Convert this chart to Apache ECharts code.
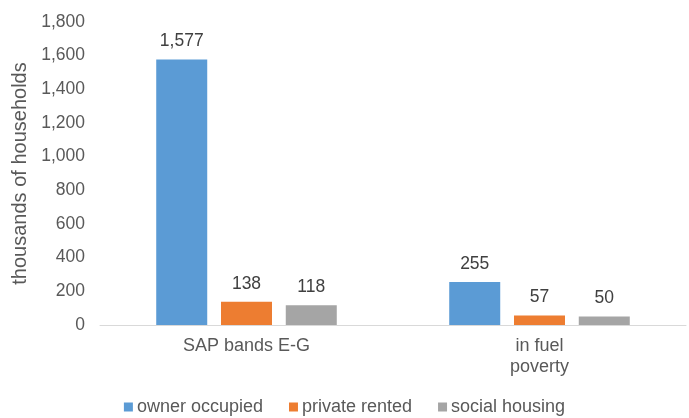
<!DOCTYPE html>
<html>
<head>
<meta charset="utf-8">
<script src="https://cdn.jsdelivr.net/npm/echarts@6/dist/echarts.min.js"></script>
<style>
  html, body { margin: 0; padding: 0; background: #fff; }
  #chart { width: 689px; height: 418px; }
</style>
</head>
<body>
<div id="chart"></div>
<script>
// categories and values (thousands of households)
const categories = ['SAP bands E-G', 'in fuel\npoverty']
const ownerOccupied = [1577, 255]
const privateRented = [138, 57]
const socialHousing = [118, 50]
const seriesNames = ['owner occupied', 'private rented', 'social housing']
const seriesColors = ['#5B9BD5', '#ED7D31', '#A5A5A5']

const chart = echarts.init(document.getElementById('chart'))

const makeSeries = (name, data, color) => ({
  name,
  type: 'bar',
  data,
  barWidth: 51,
  barGap: '27%',
  itemStyle: { color },
  label: {
    show: true,
    position: 'top',
    distance: 9,
    color: '#404040',
    fontSize: 17.5,
    formatter: ({ value }) => value.toLocaleString('en-US')
  }
})

chart.setOption({
  animation: false,
  textStyle: { fontFamily: 'Liberation Sans, Arial, sans-serif' },
  legend: {
    data: seriesNames,
    top: 393,
    left: 'center',
    icon: 'rect',
    itemWidth: 9,
    itemHeight: 9,
    itemGap: 26,
    textStyle: { color: '#595959', fontSize: 18, padding: [0, 0, 0, -1] }
  },
  grid: {
    left: 100,
    right: 3,
    top: 22,
    bottom: 93
  },
  xAxis: {
    type: 'category',
    data: categories,
    axisLine: { lineStyle: { color: '#D9D9D9', width: 1 } },
    axisTick: { show: false },
    axisLabel: {
      color: '#595959',
      fontSize: 18,
      margin: 11,
      lineHeight: 21,
      verticalAlign: 'top',
      interval: 0
    }
  },
  yAxis: {
    type: 'value',
    min: 0,
    max: 1800,
    interval: 200,
    name: 'thousands of households',
    nameLocation: 'middle',
    nameGap: 67,
    nameTextStyle: { color: '#595959', fontSize: 20 },
    axisLine: { show: false },
    axisTick: { show: false },
    splitLine: { show: false },
    axisLabel: {
      color: '#595959',
      fontSize: 17.5,
      margin: 15,
      formatter: (v) => v.toLocaleString('en-US')
    }
  },
  series: [
    makeSeries(seriesNames[0], ownerOccupied, seriesColors[0]),
    makeSeries(seriesNames[1], privateRented, seriesColors[1]),
    makeSeries(seriesNames[2], socialHousing, seriesColors[2])
  ]
})
</script>
</body>
</html>
